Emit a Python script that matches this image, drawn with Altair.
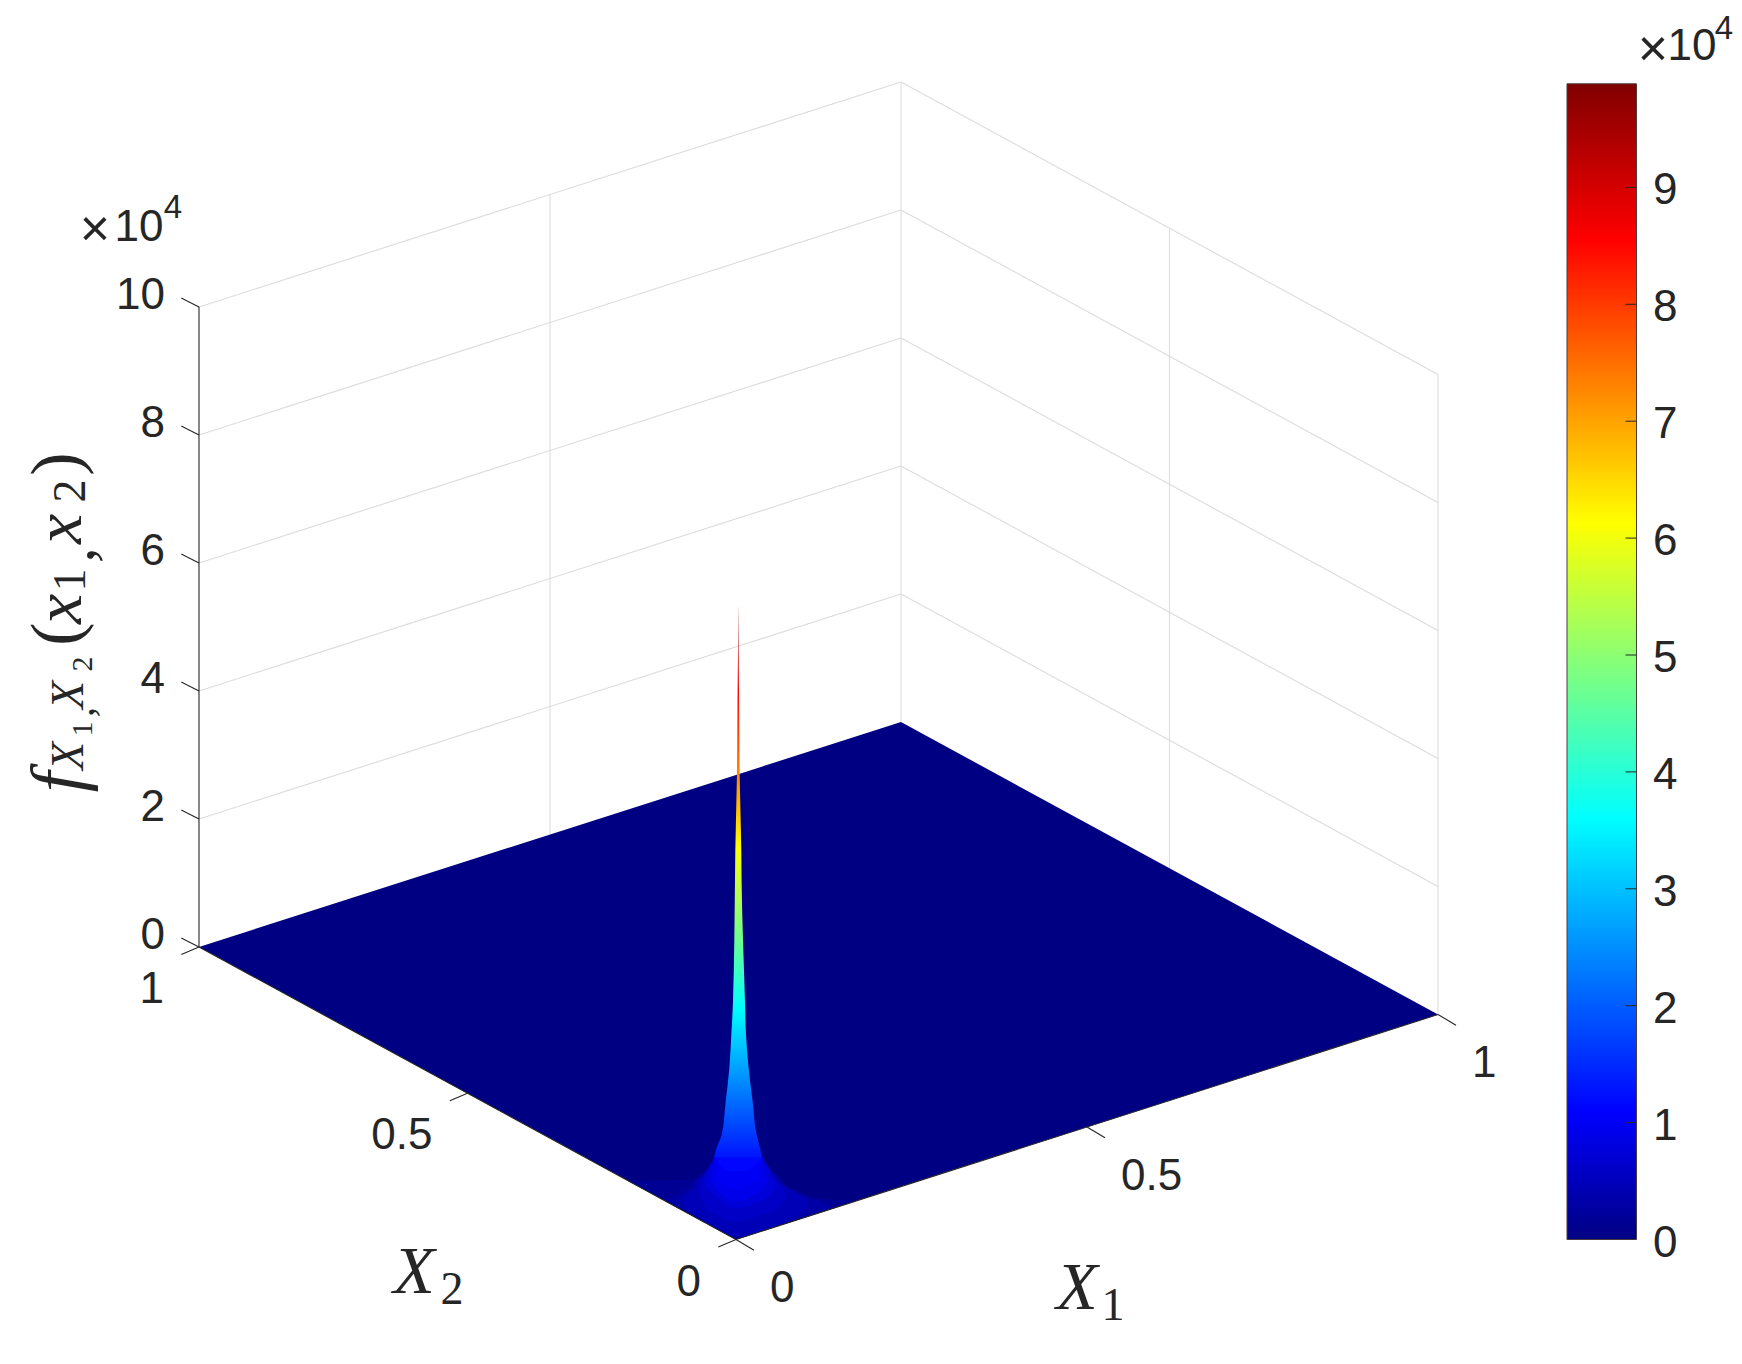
import altair as alt
import pandas as pd

# ---------- values ----------
Z_TICKS = [0, 2, 4, 6, 8, 10]
XY_TICKS = [0, 0.5, 1]
XY_LABELS = ["0", "0.5", "1"]
CBAR_TICKS = [0, 1, 2, 3, 4, 5, 6, 7, 8, 9]
Z_MAX = 9.886

# spike silhouette: height (x 10^4), extent toward X2 and toward X1 (axis fractions)
spike_z = [1.276, 1.432, 1.635, 2.156, 2.677, 3.198, 3.719, 5.594, 6.06, 7.234, 8.406, 9.19, 9.58, 9.886]
spike_x2 = [.041, .036, .0267, .0192, .0124, .0087, .0056, .0019, .0013, -.0017, -.0028, -.0037, -.004, -.0042]
spike_x1 = [.0375, .0342, .0294, .0237, .018, .0142, .0128, .008, .0076, .0053, .0044, .0037, .0035, .0033]

# skirt contours at the foot of the spike: level -> (apparent height, x2 extent, x1 extent)
skirt_levels = [0.15, 0.3, 0.45, 0.6, 0.75, 0.9, 1.0, 1.15]
skirt_h = [
    [0, .599, .651, .859, .911, .937, 1.016],
    [0, .495, .625, .651, .807, .911, 1.068],
    [.052, .286, .495, .651, .807, .911, 1.12],
    [.286, .443, .651, .807, .911, 1.172],
    [.495, .651, .807, .911, 1.224],
    [.599, .729, .911, 1.12, 1.276],
    [.781, .859, .911, 1.12, 1.276],
    [1.068, 1.172, 1.276],
]
skirt_x2 = [
    [0, .1316, .1434, .1887, .2005, .0763, .0596],
    [0, .1086, .1353, .1229, .0826, .0795, .0559],
    [.0099, .0608, .0981, .1012, .0763, .0732, .0515],
    [.0081, .0515, .067, .0683, .067, .0484],
    [.0112, .036, .0546, .0596, .0453],
    [.0081, .0298, .0484, .0435, .0422],
    [.0081, .0205, .036, .036, .0391],
    [.0174, .0298, .0391],
]
skirt_x1 = [
    [0, .1705, .1102, .0684, .0636, .0603, .057],
    [0, .1406, .1149, .103, .0722, .0651, .0532],
    [.0142, .0769, .103, .1007, .0722, .0617, .0475],
    [.0081, .0532, .0722, .0665, .0579, .0446],
    [.0104, .0437, .0579, .0532, .0413],
    [.0081, .0342, .0446, .0399, .0389],
    [.0081, .0199, .0342, .0342, .0366],
    [.0152, .0294, .0366],
]

# jet colormap anchors (fraction of the range, colour)
jet_t = [0, .11, .365, .62, .865, 1]
jet_c = ["#000083", "#0000ff", "#00ffff", "#ffff00", "#ff0000", "#800000"]

INK = "#262626"
GRID = "#dcdcdc"
SANS = "Liberation Sans"
SERIF = "Liberation Serif"


# ---------- view of the 3-D box on the page ----------
def sx(x1, x2):
    return 736 + 702 * x1 - 537 * x2


def sy(x1, x2, z=0):
    return 1239.5 - 225 * x1 - 292.5 * x2 - 64 * z


def cb_y(v):
    return 1239.5 - 116.9 * v


def hexlerp(a, b, f):
    pa = [int(a[i:i + 2], 16) for i in (1, 3, 5)]
    pb = [int(b[i:i + 2], 16) for i in (1, 3, 5)]
    return "#%02x%02x%02x" % tuple(round(p + (q - p) * f) for p, q in zip(pa, pb))


def jet(z):
    t = z / Z_MAX
    for i in range(len(jet_t) - 1):
        if t <= jet_t[i + 1]:
            return hexlerp(jet_c[i], jet_c[i + 1], (t - jet_t[i]) / (jet_t[i + 1] - jet_t[i]))
    return jet_c[-1]


X = alt.X("px:Q", scale=alt.Scale(domain=[8, 1734], nice=False, zero=False), axis=None)
Y = alt.Y("py:Q", scale=alt.Scale(domain=[8, 1356], nice=False, zero=False, reverse=True), axis=None)
COLOR = alt.Color(
    "level:Q",
    scale=alt.Scale(domain=[t * Z_MAX for t in jet_t], range=jet_c, interpolate="rgb"),
    legend=None,
)


def segs(rows, color, width):
    df = pd.DataFrame(rows, columns=["px", "py", "qx", "qy"])
    return alt.Chart(df).mark_rule(color=color, strokeWidth=width).encode(
        x=X, y=Y, x2="qx:Q", y2="qy:Q"
    )


layers = []

# grid on the two back walls
grid = []
for z in Z_TICKS[1:]:
    grid.append((sx(0, 1), sy(0, 1, z), sx(1, 1), sy(1, 1, z)))
    grid.append((sx(1, 1), sy(1, 1, z), sx(1, 0), sy(1, 0, z)))
grid.append((sx(.5, 1), sy(.5, 1), sx(.5, 1), sy(.5, 1, 10)))
grid.append((sx(1, .5), sy(1, .5), sx(1, .5), sy(1, .5, 10)))
grid.append((sx(1, 1), sy(1, 1), sx(1, 1), sy(1, 1, 10)))
grid.append((sx(1, 0), sy(1, 0), sx(1, 0), sy(1, 0, 10)))
layers.append(segs(grid, GRID, 1.1))

# floor of the surface
floor = pd.DataFrame({
    "px": [sx(0, 1), sx(0, 0), sx(1, 1), sx(1, 0)],
    "py": [sy(0, 1), sy(0, 1) + (sx(0, 0) - sx(0, 1)) * (sy(1, 1) - sy(0, 1)) / (sx(1, 1) - sx(0, 1)), sy(1, 1), sy(1, 0)],
    "qy": [sy(0, 1), sy(0, 0), sy(1, 1) + 0, sy(1, 0)],
})
floor.loc[2, "qy"] = sy(0, 0) + (sx(1, 1) - sx(0, 0)) * (sy(1, 0) - sy(0, 0)) / (sx(1, 0) - sx(0, 0))
layers.append(alt.Chart(floor).mark_area(color=jet_c[0], interpolate="linear").encode(x=X, y=Y, y2="qy:Q"))

# skirt at the foot of the spike
for lev, hs, w2, w1 in zip(skirt_levels, skirt_h, skirt_x2, skirt_x1):
    df = pd.DataFrame({
        "py": [sy(0, 0, h) for h in hs],
        "px": [sx(0, w) for w in w2],
        "qx": [sx(w, 0) for w in w1],
        "level": lev,
    })
    layers.append(
        alt.Chart(df).mark_area(orient="horizontal", interpolate="linear").encode(
            y=Y, x=X, x2="qx:Q", color=COLOR
        )
    )

# spike, coloured by height
z0 = spike_z[0]
stops = [alt.GradientStop(color=jet(z0), offset=0)]
for t, c in zip(jet_t, jet_c):
    z = t * Z_MAX
    if z > z0:
        stops.append(alt.GradientStop(color=c, offset=(z - z0) / (Z_MAX - z0)))
spike = pd.DataFrame({
    "py": [sy(0, 0, h) for h in spike_z],
    "px": [sx(0, w) for w in spike_x2],
    "qx": [sx(w, 0) for w in spike_x1],
})
layers.append(
    alt.Chart(spike).mark_area(
        orient="horizontal", interpolate="monotone",
        fill=alt.Gradient(gradient="linear", stops=stops, x1=0, x2=0, y1=1, y2=0),
    ).encode(y=Y, x=X, x2="qx:Q")
)

# axes and ticks
axes = [
    (sx(0, 1), sy(0, 1), sx(0, 1), sy(0, 1, 10)),
    (sx(0, 1), sy(0, 1), sx(0, 0), sy(0, 0)),
    (sx(0, 0), sy(0, 0), sx(1, 0), sy(1, 0)),
]
for z in Z_TICKS:
    axes.append((sx(0, 1), sy(0, 1, z), sx(0, 1) - 17.7, sy(0, 1, z) - 9))
for v in XY_TICKS:
    axes.append((sx(0, v), sy(0, v), sx(0, v) - 17.7, sy(0, v) + 7.5))
    axes.append((sx(v, 0), sy(v, 0), sx(v, 0) + 18, sy(v, 0) + 10.7))
layers.append(segs(axes, INK, 1.1))

# colour bar
cbar_stops = [alt.GradientStop(color=c, offset=t) for t, c in zip(jet_t, jet_c)]
cbar = pd.DataFrame({"px": [1567], "qx": [1636.5], "py": [cb_y(Z_MAX)], "qy": [cb_y(0)]})
layers.append(
    alt.Chart(cbar).mark_rect(
        fill=alt.Gradient(gradient="linear", stops=cbar_stops, x1=0, x2=0, y1=1, y2=0),
        stroke="#4a3a3a", strokeWidth=1,
    ).encode(x=X, x2="qx:Q", y=Y, y2="qy:Q")
)
layers.append(segs([(1625.5, cb_y(v), 1636.5, cb_y(v)) for v in CBAR_TICKS[1:]], INK, 1))


# text
def text(rows, **mk):
    df = pd.DataFrame(rows, columns=["px", "py", "t", "fs"])
    return alt.Chart(df).mark_text(color=INK, **mk).encode(
        x=X, y=Y, text="t:N", size=alt.Size("fs:Q", scale=None, legend=None)
    )


FS = 44
layers.append(text([(165, sy(0, 1, z) - 11.5, str(z), FS) for z in Z_TICKS], font=SANS, align="right", baseline="middle"))
layers.append(text([(sx(0, v) - 35, sy(0, v) + 43, s, FS) for v, s in zip(XY_TICKS, XY_LABELS)], font=SANS, align="right", baseline="middle"))
layers.append(text([(sx(v, 0) + 34, sy(v, 0) + 49.5, s, FS) for v, s in zip(XY_TICKS, XY_LABELS)], font=SANS, align="left", baseline="middle"))
layers.append(text([(1653, cb_y(v) + 4, str(v), FS) for v in CBAR_TICKS], font=SANS, align="left", baseline="middle"))
layers.append(text([
    (95, 230, "×", 52), (139, 228, "10", FS), (173, 208, "4", 33),
    (1653, 50, "×", 52), (1692, 47, "10", FS), (1724, 29, "4", 33),
], font=SANS, align="center", baseline="middle"))

# math labels set piece by piece
layers.append(text([(1077, 1289, "X", 68), (414, 1273, "X", 68)], font=SERIF, fontStyle="italic", align="center", baseline="middle"))
layers.append(text([(1113, 1306, "1", 46), (452, 1290, "2", 46)], font=SERIF, align="center", baseline="middle"))
layers.append(text([
    (60, 782, "f", 74), (69, 756, "X", 46), (80, 712, ",", 42), (69, 695, "X", 46),
    (61, 609, "x", 68), (74, 555, ",", 62), (61, 529, "x", 68),
], font=SERIF, fontStyle="italic", angle=270, align="center", baseline="middle"))
layers.append(text([
    (83, 729, "1", 30), (83, 664, "2", 30), (58, 634, "(", 70), (71, 580, "1", 46),
    (71, 491, "2", 46), (58, 464, ")", 70),
], font=SERIF, angle=270, align="center", baseline="middle"))

chart = alt.layer(*layers).properties(
    width=1726, height=1348, padding=0,
    autosize=alt.AutoSizeParams(type="none"), background="white",
).configure_view(stroke=None)

chart.save("out.html", embed_options={"renderer": "svg", "actions": False})
